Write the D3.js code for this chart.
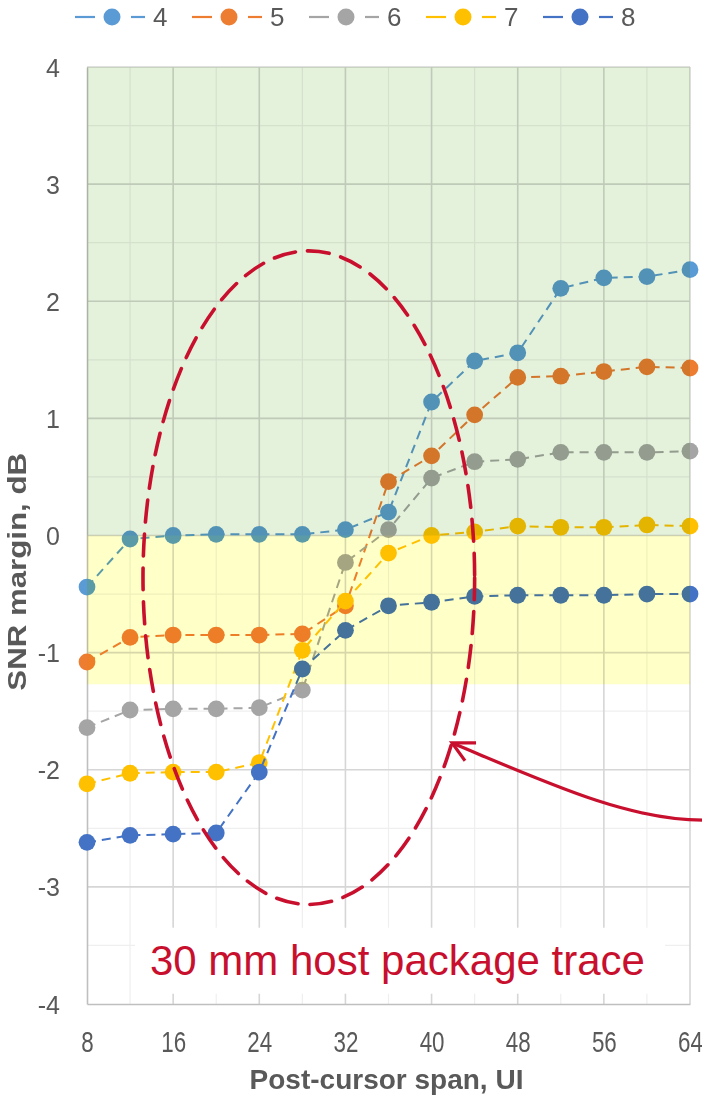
<!DOCTYPE html>
<html>
<head>
<meta charset="utf-8">
<script src="https://cdn.jsdelivr.net/npm/d3@7"></script>
<style>
  html, body { margin: 0; padding: 0; background: #fff; }
  svg { display: block; font-family: "Liberation Sans", Arial, sans-serif; }
</style>
</head>
<body>
<svg id="chart" width="702" height="1096"></svg>
<script>
// Post-cursor span (UI) on the x axis
const spans = [8, 12, 16, 20, 24, 28, 32, 36, 40, 44, 48, 52, 56, 60, 64];

// SNR margin (dB) per series
const series4 = [-0.44, -0.03, 0.00, 0.01, 0.01, 0.01, 0.05, 0.20, 1.14, 1.49, 1.56, 2.11, 2.20, 2.21, 2.27];
const series5 = [-1.08, -0.87, -0.85, -0.85, -0.85, -0.84, -0.60, 0.46, 0.68, 1.03, 1.35, 1.36, 1.40, 1.44, 1.43];
const series6 = [-1.64, -1.49, -1.48, -1.48, -1.47, -1.32, -0.23, 0.05, 0.49, 0.63, 0.65, 0.71, 0.71, 0.71, 0.72];
const series7 = [-2.12, -2.03, -2.02, -2.02, -1.94, -0.98, -0.56, -0.15, 0.00, 0.03, 0.08, 0.07, 0.07, 0.09, 0.08];
const series8 = [-2.62, -2.56, -2.55, -2.54, -2.02, -1.14, -0.81, -0.60, -0.57, -0.52, -0.51, -0.51, -0.51, -0.50, -0.50];

const seriesNames = ["4", "5", "6", "7", "8"];
const seriesValues = [series4, series5, series6, series7, series8];
const seriesColors = ["#5b9bd5", "#ed7d31", "#a5a5a5", "#ffc000", "#4472c4"];

const xTicks = [8, 16, 24, 32, 40, 48, 56, 64];
const yTicks = [-4, -3, -2, -1, 0, 1, 2, 3, 4];

// shaded margin zones: [low, high] in dB
const passZone = [0, 4];
const marginalZone = [-1.27, 0];

const xTitle = "Post-cursor span, UI";
const yTitle = "SNR margin, dB";
const noteText = "30 mm host package trace";

const svg = d3.select("#chart");
const plot = { left: 87, right: 690, top: 67, bottom: 1004 };

const x = d3.scaleLinear().domain([8, 64]).range([plot.left, plot.right]);
const y = d3.scaleLinear().domain([-4, 4]).range([plot.bottom, plot.top]);

// plain hyphen for negative tick labels
const fmt = d => String(d);

// gridlines: minor first, then major
const grid = svg.append("g");
const minorX = d3.range(12, 64, 8);
const minorY = d3.range(-3.5, 4, 1);
grid.selectAll(".mx").data(minorX).join("line")
  .attr("x1", d => x(d)).attr("x2", d => x(d))
  .attr("y1", plot.top).attr("y2", plot.bottom)
  .attr("stroke", "#efefef").attr("stroke-width", 1.2);
grid.selectAll(".my").data(minorY).join("line")
  .attr("x1", plot.left).attr("x2", plot.right)
  .attr("y1", d => y(d)).attr("y2", d => y(d))
  .attr("stroke", "#efefef").attr("stroke-width", 1.2);
grid.selectAll(".gx").data(xTicks.slice(1)).join("line")
  .attr("x1", d => x(d)).attr("x2", d => x(d))
  .attr("y1", plot.top).attr("y2", plot.bottom)
  .attr("stroke", "#d6d6d6").attr("stroke-width", 1.6);
grid.selectAll(".gy").data(yTicks.slice(1)).join("line")
  .attr("x1", plot.left).attr("x2", plot.right)
  .attr("y1", d => y(d)).attr("y2", d => y(d))
  .attr("stroke", "#d6d6d6").attr("stroke-width", 1.6);

// axes
const xAxis = d3.axisBottom(x).tickValues(xTicks).tickFormat(fmt).tickSize(0).tickPadding(0);
const yAxis = d3.axisLeft(y).tickValues(yTicks).tickFormat(fmt).tickSize(0).tickPadding(0);

const gx = svg.append("g").attr("transform", `translate(0,${plot.bottom})`).call(xAxis);
gx.select(".domain").attr("stroke", "#bfbfbf").attr("stroke-width", 1.6);
gx.selectAll(".tick text")
  .attr("fill", "#595959").attr("font-size", 26)
  .attr("dy", null).attr("y", 0)
  .attr("transform", "translate(0,48) scale(0.86,1.12)");

const gy = svg.append("g").attr("transform", `translate(${plot.left},0)`).call(yAxis);
gy.select(".domain").attr("stroke", "#bfbfbf").attr("stroke-width", 1.6);
gy.selectAll(".tick text")
  .attr("fill", "#595959").attr("font-size", 25)
  .attr("x", -27).attr("dy", "0.36em");

// series lines and markers
const line = d3.line().x((d, i) => x(spans[i])).y(d => y(d));
seriesValues.forEach((vals, k) => {
  const g = svg.append("g");
  g.append("path").datum(vals)
    .attr("d", line)
    .attr("fill", "none")
    .attr("stroke", seriesColors[k])
    .attr("stroke-width", 2)
    .attr("stroke-dasharray", "9,6");
  g.selectAll("circle").data(vals).join("circle")
    .attr("cx", (d, i) => x(spans[i]))
    .attr("cy", d => y(d))
    .attr("r", 8.4)
    .attr("fill", seriesColors[k]);
});

// shaded zones laid over the plot
const zones = svg.append("g");
zones.append("rect")
  .attr("x", plot.left).attr("width", plot.right - plot.left)
  .attr("y", y(passZone[1])).attr("height", y(passZone[0]) - y(passZone[1]))
  .attr("fill", "#e4f1db").style("mix-blend-mode", "multiply");
zones.append("rect")
  .attr("x", plot.left).attr("width", plot.right - plot.left)
  .attr("y", y(marginalZone[1])).attr("height", y(marginalZone[0]) - y(marginalZone[1]))
  .attr("fill", "#ffffc8").style("mix-blend-mode", "multiply");

// axis titles
svg.append("text")
  .attr("x", (plot.left + plot.right) / 2 - 2).attr("y", 1089)
  .attr("text-anchor", "middle")
  .attr("font-size", 28).attr("font-weight", "bold").attr("fill", "#595959")
  .text(xTitle);

svg.append("text")
  .attr("transform", `translate(26,${y(-0.31)}) rotate(-90) scale(1.25,1)`)
  .attr("text-anchor", "middle")
  .attr("font-size", 25).attr("font-weight", "bold").attr("fill", "#595959")
  .text(yTitle);

// legend
const legend = svg.append("g").attr("transform", "translate(75,17)");
seriesNames.forEach((name, k) => {
  const item = legend.append("g").attr("transform", `translate(${k * 117},0)`);
  item.append("line").attr("x1", 0).attr("x2", 20).attr("y1", 0).attr("y2", 0)
    .attr("stroke", seriesColors[k]).attr("stroke-width", 2.2);
  item.append("line").attr("x1", 56).attr("x2", 70).attr("y1", 0).attr("y2", 0)
    .attr("stroke", seriesColors[k]).attr("stroke-width", 2.2);
  item.append("circle").attr("cx", 37).attr("cy", 0).attr("r", 8.5)
    .attr("fill", seriesColors[k]);
  item.append("text").attr("x", 78).attr("y", 0).attr("dy", "0.36em")
    .attr("font-size", 26).attr("fill", "#595959").text(name);
});

// annotation: dashed ellipse around the transition, arrow and label
const red = "#c8102e";
const ellipseCenter = [28.6, -0.36];
const ellipseRadius = [15.4, 2.79];
svg.append("ellipse")
  .attr("cx", x(ellipseCenter[0])).attr("cy", y(ellipseCenter[1]))
  .attr("rx", x(8 + ellipseRadius[0]) - x(8))
  .attr("ry", y(0) - y(ellipseRadius[1]))
  .attr("fill", "none").attr("stroke", red)
  .attr("stroke-width", 3.6).attr("stroke-dasharray", "22,12")
  .attr("stroke-linecap", "round");

const tip = [41.9, -1.77];
const tail = [65.2, -2.43];
const tx = x(tip[0]), ty = y(tip[1]);
const sx = x(tail[0]), sy = y(tail[1]);
svg.append("path")
  .attr("d", `M${sx},${sy} C${sx - 75},${sy} ${tx + 95},${ty + 40} ${tx + 2},${ty + 1}`)
  .attr("fill", "none").attr("stroke", red).attr("stroke-width", 3.2);
svg.append("path")
  .attr("d", `M${tx + 24},${ty} L${tx},${ty} L${tx + 13},${ty + 18}`)
  .attr("fill", "none").attr("stroke", red).attr("stroke-width", 3.2)
  .attr("stroke-linejoin", "miter");

const noteX = x(13.85), noteY = y(-3.75);
svg.append("rect")
  .attr("x", noteX - 15).attr("y", noteY - 47)
  .attr("width", 530).attr("height", 66)
  .attr("fill", "#fff");
svg.append("text")
  .attr("x", noteX).attr("y", noteY)
  .attr("font-size", 42).attr("fill", red)
  .text(noteText);
</script>
</body>
</html>
